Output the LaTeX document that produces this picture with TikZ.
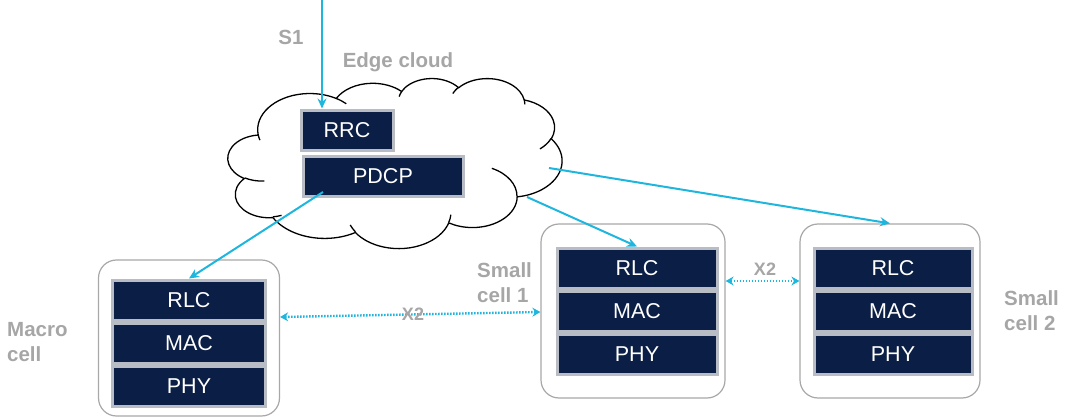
\documentclass[tikz,border=0pt]{standalone}
\usepackage{fontspec}
\setmainfont{Liberation Sans}
\usetikzlibrary{arrows.meta,calc}
\definecolor{navy}{HTML}{0B1E45}
\definecolor{layergray}{HTML}{B8BCC4}
\definecolor{boxgray}{HTML}{A8A8A8}
\definecolor{labelgray}{HTML}{A6A6A6}
\definecolor{linkblue}{HTML}{1FB6DE}
\begin{document}
\begin{tikzpicture}[x=1pt,y=-1pt,
  layer/.style={fill=navy, draw=layergray, line width=3pt, text=white,
    font=\fontsize{21.5}{21.5}\selectfont, inner sep=0pt, minimum height=40pt},
  cellbox/.style={draw=boxgray, line width=1.2pt, rounded corners=18pt, fill=white, inner sep=0pt},
  tag/.style={text=labelgray, font=\fontsize{20.5}{25}\selectfont\bfseries, align=left, inner sep=0pt},
  link/.style={draw=linkblue, line width=2pt, -{Stealth[length=10pt,width=9pt]}},
  xtwo/.style={draw=linkblue, line width=2.4pt, dash pattern=on 1.6pt off 1.4pt,
    {Stealth[length=8pt,width=9pt]}-{Stealth[length=8pt,width=9pt]}},
  % elliptical arc of the cloud outline: radii in outline units, start and sweep as ray angles
  cloudarc/.style n args={4}{
    x radius={(#1)*0.7731pt}, y radius={(#2)*0.3935pt},
    start angle={-atan2((#1)*sin(#3),(#2)*cos(#3))},
    delta angle={-Mod(atan2((#1)*sin((#3)+(#4)),(#2)*cos((#3)+(#4)))-atan2((#1)*sin(#3),(#2)*cos(#3)),360)}}]

\useasboundingbox (0,0) rectangle (1066,420);

% ---- edge cloud ----
\begin{scope}[shift={(228,78)}, x=0.7731pt, y=-0.3935pt, line width=1.3pt]
  \draw[fill=white] (39.00,143.70)
    arc[cloudarc={67.53}{91.90}{-190.487}{123.781}]
    arc[cloudarc={53.33}{72.67}{-144.102}{89.945}]
    arc[cloudarc={43.65}{59.45}{-145.808}{99.723}]
    arc[cloudarc={48.57}{65.95}{-130.986}{117.242}]
    arc[cloudarc={53.33}{72.73}{-78.709}{109.027}]
    arc[cloudarc={67.75}{92.20}{-46.267}{130.269}]
    arc[cloudarc={57.85}{78.67}{0.625}{114.033}]
    arc[cloudarc={67.52}{92.15}{22.452}{115.173}]
    arc[cloudarc={77.20}{105.43}{66.243}{75.711}]
    arc[cloudarc={43.60}{59.18}{-274.942}{146.736}]
    arc[cloudarc={43.45}{59.45}{-246.829}{152.519}]
    -- cycle;
  % inner curls of the puffs
  \draw (46.93,261.77) arc[cloudarc={43.45}{59.45}{86.742}{26.430}];
  \draw (69.28,348.99) arc[cloudarc={43.60}{59.18}{73.610}{11.447}];
  \draw (164.78,390.90) arc[cloudarc={67.52}{92.15}{137.624}{14.081}];
  \draw (288.27,347.51) arc[cloudarc={67.52}{92.15}{6.453}{15.998}];
  \draw (341.29,229.54) arc[cloudarc={57.85}{78.67}{-70.292}{70.917}];
  \draw (417.98,153.54) arc[cloudarc={53.33}{72.73}{30.318}{27.752}];
  \draw (383.24,54.26) arc[cloudarc={48.57}{65.95}{-13.744}{14.859}];
  \draw (290.78,39.52) arc[cloudarc={48.57}{65.95}{-149.181}{18.195}];
  \draw (221.41,47.20) arc[cloudarc={43.65}{59.45}{-163.494}{17.686}];
  \draw (140.00,51.92) arc[cloudarc={67.53}{91.90}{-66.707}{12.319}];
  \draw (41.27,157.89) arc[cloudarc={67.53}{91.90}{157.654}{11.858}];
\end{scope}

\node[layer, minimum width=92pt] (rrc) at (347,130) {RRC};
\node[layer, minimum width=160pt] (pdcp) at (383,176) {PDCP};

% ---- cells ----
\node[cellbox, minimum width=181pt, minimum height=156pt] (macro) at (189,338) {};
\node[layer, minimum width=153pt] (mrlc) at (189,300) {RLC};
\node[layer, minimum width=153pt] (mmac) at (189,343) {MAC};
\node[layer, minimum width=153pt] (mphy) at (189,386) {PHY};

\node[cellbox, minimum width=184pt, minimum height=174pt] (sc1) at (633,311) {};
\node[layer, minimum width=160pt] (arlc) at (637,268) {RLC};
\node[layer, minimum width=160pt] (amac) at (637,311) {MAC};
\node[layer, minimum width=160pt] (aphy) at (637,354) {PHY};

\node[cellbox, minimum width=180pt, minimum height=174pt] (sc2) at (890,311) {};
\node[layer, minimum width=158pt] (brlc) at (893,268) {RLC};
\node[layer, minimum width=158pt] (bmac) at (893,311) {MAC};
\node[layer, minimum width=158pt] (bphy) at (893,354) {PHY};

% ---- labels ----
\node[tag] (s1) at (291,37) {S1};
\node[tag] (edge) at (398,62) {Edge cloud};
\node[tag, anchor=west] (lmacro) at (7,342) {Macro\\cell};
\node[tag, anchor=west] (lsc1) at (477,283) {Small\\cell 1};
\node[tag, anchor=west] (lsc2) at (1004,311) {Small\\cell 2};

% ---- connectors ----
\coordinate (core) at (322,0);
\coordinate (pdcpout) at (323,192);
\coordinate (cloudA) at (527,197);
\coordinate (cloudB) at (549,168);
\draw[link] (core) -- (core |- rrc.north);
\draw[link] (pdcpout) -- (mrlc.north);
\draw[link] (cloudA) -- (arlc.north);
\draw[link] (cloudB) -- (sc2.north);

\coordinate (xa) at (macro.east |- 0,317);
\coordinate (xb) at (sc1.west |- 0,312);
\draw[xtwo] (xa) -- (xb);
\draw[xtwo] (sc1.east |- 0,281) -- (sc2.west |- 0,281);
\node[tag, font=\fontsize{18}{18}\selectfont\bfseries] (x2a) at (413,314) {X2};
\node[tag, font=\fontsize{18}{18}\selectfont\bfseries] (x2b) at (765,269) {X2};
\end{tikzpicture}
\end{document}
